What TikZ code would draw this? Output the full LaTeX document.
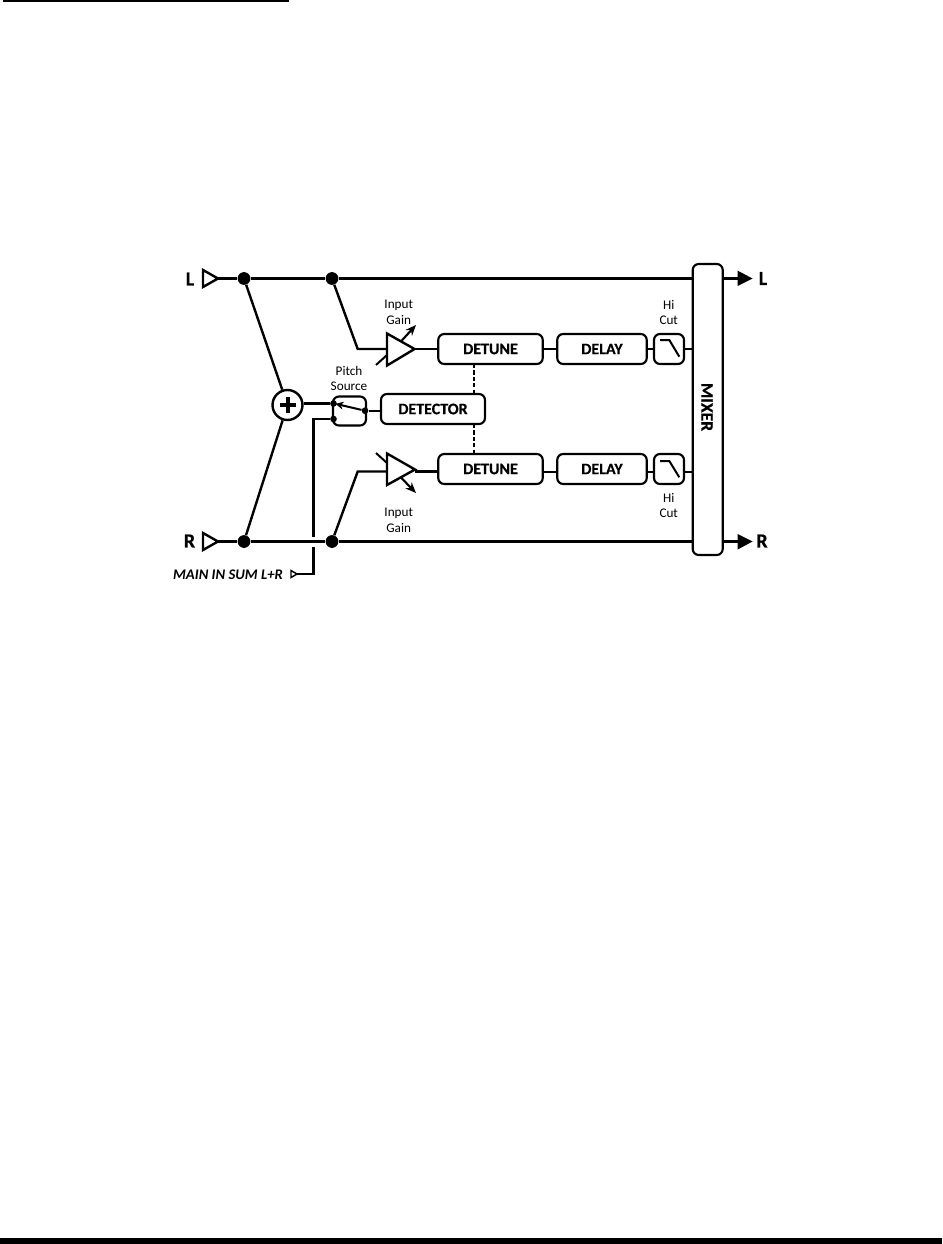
\documentclass[tikz,border=0pt]{standalone}
\usepackage{fontspec}
\setmainfont[BoldFeatures={FakeBold=0.6}]{Carlito}
\usetikzlibrary{arrows.meta}
\tikzset{
  wire/.style={line width=1.8pt,line cap=butt,line join=miter},
  thinwire/.style={line width=1.5pt},
  blk/.style={draw,line width=1.6pt,rounded corners=4.5pt,inner sep=0pt,outer sep=0pt,font=\fontsize{12}{12}\selectfont\bfseries},
  dot/.style={circle,fill=black,draw=none,inner sep=0pt,minimum size=9.6pt},
  sdot/.style={circle,fill=black,draw=none,inner sep=0pt,minimum size=5pt},
  caption/.style={inner sep=0pt,font=\fontsize{9.9}{11.8}\selectfont,align=center},
  io/.style={inner sep=0pt,font=\fontsize{15}{15}\selectfont\bfseries},
  tri/.style={line width=1.8pt,line join=miter,fill=white},
  ctl/.style={line width=1.6pt,-{Stealth[length=8pt,width=6.5pt]}},
  dashwire/.style={line width=1.3pt,dash pattern=on 3.2pt off 1.6pt},
}
\begin{document}
\begin{tikzpicture}[x=0.75pt,y=-0.75pt]
\useasboundingbox (0,0) rectangle (942,1244);
% rules
\fill (3,0) rectangle (289,2);
\fill (0,1238) rectangle (942,1244);

% blocks
\node[blk,minimum width=30*0.75pt,minimum height=291*0.75pt] (mixer) at (707.7,409.5) {};
\node[inner sep=0pt,rotate=-90,font=\fontsize{13.2}{13}\selectfont\bfseries] (mixertext) at (707,407) {MIXER};
\node[blk,minimum width=104.5*0.75pt,minimum height=30*0.75pt] (det1) at (490.5,349) {DETUNE};
\node[blk,minimum width=89.5*0.75pt,minimum height=30*0.75pt] (del1) at (602,349) {DELAY};
\node[blk,minimum width=30*0.75pt,minimum height=30*0.75pt] (cut1) at (669,349) {};
\node[blk,minimum width=104.5*0.75pt,minimum height=30*0.75pt] (det2) at (490.5,469) {DETUNE};
\node[blk,minimum width=89.5*0.75pt,minimum height=30*0.75pt] (del2) at (602,469) {DELAY};
\node[blk,minimum width=30*0.75pt,minimum height=30*0.75pt] (cut2) at (669,469) {};
\node[blk,minimum width=104*0.75pt,minimum height=30*0.75pt] (detector) at (433,409) {DETECTOR};
\node[blk,minimum width=33*0.75pt,minimum height=29*0.75pt] (switch) at (349.5,411) {};
\node[circle,draw,line width=1.8pt,fill=white,inner sep=0pt,minimum size=30*0.75pt] (sum) at (287.5,405) {};
\fill (279.5,403) rectangle (295.5,407);
\fill (285.5,397) rectangle (289.5,413);

% junctions
\node[dot] (jl1) at (244,278.5) {};
\node[dot] (jl2) at (332,278.5) {};
\node[dot] (jr1) at (244,541.5) {};
\node[dot] (jr2) at (332,541.5) {};
\node[sdot] (sw1) at (333.5,403.5) {};
\node[sdot] (sw2) at (333.5,419) {};
\node[sdot] (sw3) at (365,410.7) {};

% helper coordinates
\coordinate (inL) at (218,278.5);
\coordinate (inR) at (218,541.5);
\coordinate (topkink) at (357.7,349);
\coordinate (botkink) at (357.7,471.5);
\coordinate (amp1in) at (387,349);
\coordinate (amp1out) at (414.5,349);
\coordinate (amp2in) at (387,471.5);
\coordinate (amp2out) at (415,471.5);
\coordinate (rowb) at (0,471.5);
\coordinate (dashx) at (474.3,0);
\coordinate (mainin) at (297,574);
\coordinate (mainc) at (313.5,574);
\coordinate (maingapl) at (313.5,547);
\coordinate (maingapu) at (313.5,537);
\coordinate (mainup) at (313.5,419);
\coordinate (outL) at (738,278.5);
\coordinate (outR) at (738,541.5);

% wires
\draw[wire] (inL) -- (jl1) -- (jl2) -- (mixer.west |- jl2);
\draw[wire] (inR) -- (jr1) -- (jr2) -- (mixer.west |- jr2);
\draw[wire] (jl1) -- (sum);
\draw[wire] (jr1) -- (sum);
\draw[wire] (jl2) -- (topkink) -- (amp1in);
\draw[wire] (jr2) -- (botkink) -- (amp2in);
\draw[wire] (amp1out) -- (det1.west);
\draw[wire] (amp2out) -- (det2.west |- rowb);
\draw[thinwire] (det1.east) -- (del1.west);
\draw[thinwire] (del1.east) -- (cut1.west);
\draw[thinwire] (cut1.east) -- (mixer.west |- cut1.east);
\draw[thinwire] (det2.east |- rowb) -- (del2.west |- rowb);
\draw[thinwire] (del2.east |- rowb) -- (cut2.west |- rowb);
\draw[thinwire] (cut2.east |- rowb) -- (mixer.west |- rowb);
\draw[wire] (sum.east |- sw1) -- (sw1);
\draw[wire] (sw3) -- (detector.west |- sw3);
\draw[wire] (sw2) -- (mainup) -- (maingapu);
\draw[wire] (maingapl) -- (mainc) -- (mainin);
\draw[wire] (mixer.east |- outL) -- (outL);
\draw[wire] (mixer.east |- outR) -- (outR);
\draw[dashwire] (det1.south -| dashx) -- (detector.north -| dashx);
\draw[dashwire] (detector.south -| dashx) -- (det2.north -| dashx);
\draw[line width=1.5pt,-{Stealth[length=6pt,width=6pt]}] (sw3) -- (335.5,403.8);

% ports and amps
\draw[tri] (203,270) -- (203,287) -- (218,278.5) -- cycle;
\draw[tri] (203,533) -- (203,550) -- (218,541.5) -- cycle;
\draw[line width=1.1pt,fill=white] (291,570.5) -- (291,577.5) -- (297,574) -- cycle;
\draw[tri] (387,333.5) -- (387,365.5) -- (414.5,349) -- cycle;
\draw[tri] (387,453.5) -- (387,485) -- (415,469.5) -- cycle;
\fill (737.7,270.7) -- (737.7,286) -- (752.5,278.5) -- cycle;
\fill (737.7,534) -- (737.7,549.5) -- (752.5,541.5) -- cycle;
\coordinate (a1a) at (376,365);
\coordinate (a1b) at (387,355);
\coordinate (a2a) at (376,453);
\coordinate (a2b) at (387,463);
\draw[line width=1.5pt] (a1a) -- (a1b);
\draw[line width=1.5pt] (a2a) -- (a2b);
\draw[ctl] (400.7,341.7) -- (416,325);
\draw[ctl] (400.7,477.3) -- (416,493);

% hi-cut icons
\draw[line width=1.5pt] (660,340) -- (669.3,340) -- (679.3,356.7);
\draw[line width=1.5pt] (660,461) -- (669.3,461) -- (679.3,477.3);

% labels
\node[io] (tL) at (190,279) {L};
\node[io] (tR) at (189.5,541) {R};
\node[io] (tLo) at (763,278.5) {L};
\node[io] (tRo) at (762,541) {R};
\node[inner sep=0pt,font=\fontsize{11}{12}\selectfont\bfseries\itshape] (tmain) at (228,575) {MAIN IN SUM L+R};
\node[caption] (g1) at (398.7,312) {Input\\Gain};
\node[caption] (g2) at (398.7,520.5) {Input\\Gain};
\node[caption] (h1) at (668.7,312.5) {Hi\\Cut};
\node[caption] (h2) at (668.7,505.5) {Hi\\Cut};
\node[caption] (ps) at (349,378.5) {Pitch\\Source};
\end{tikzpicture}
\end{document}
